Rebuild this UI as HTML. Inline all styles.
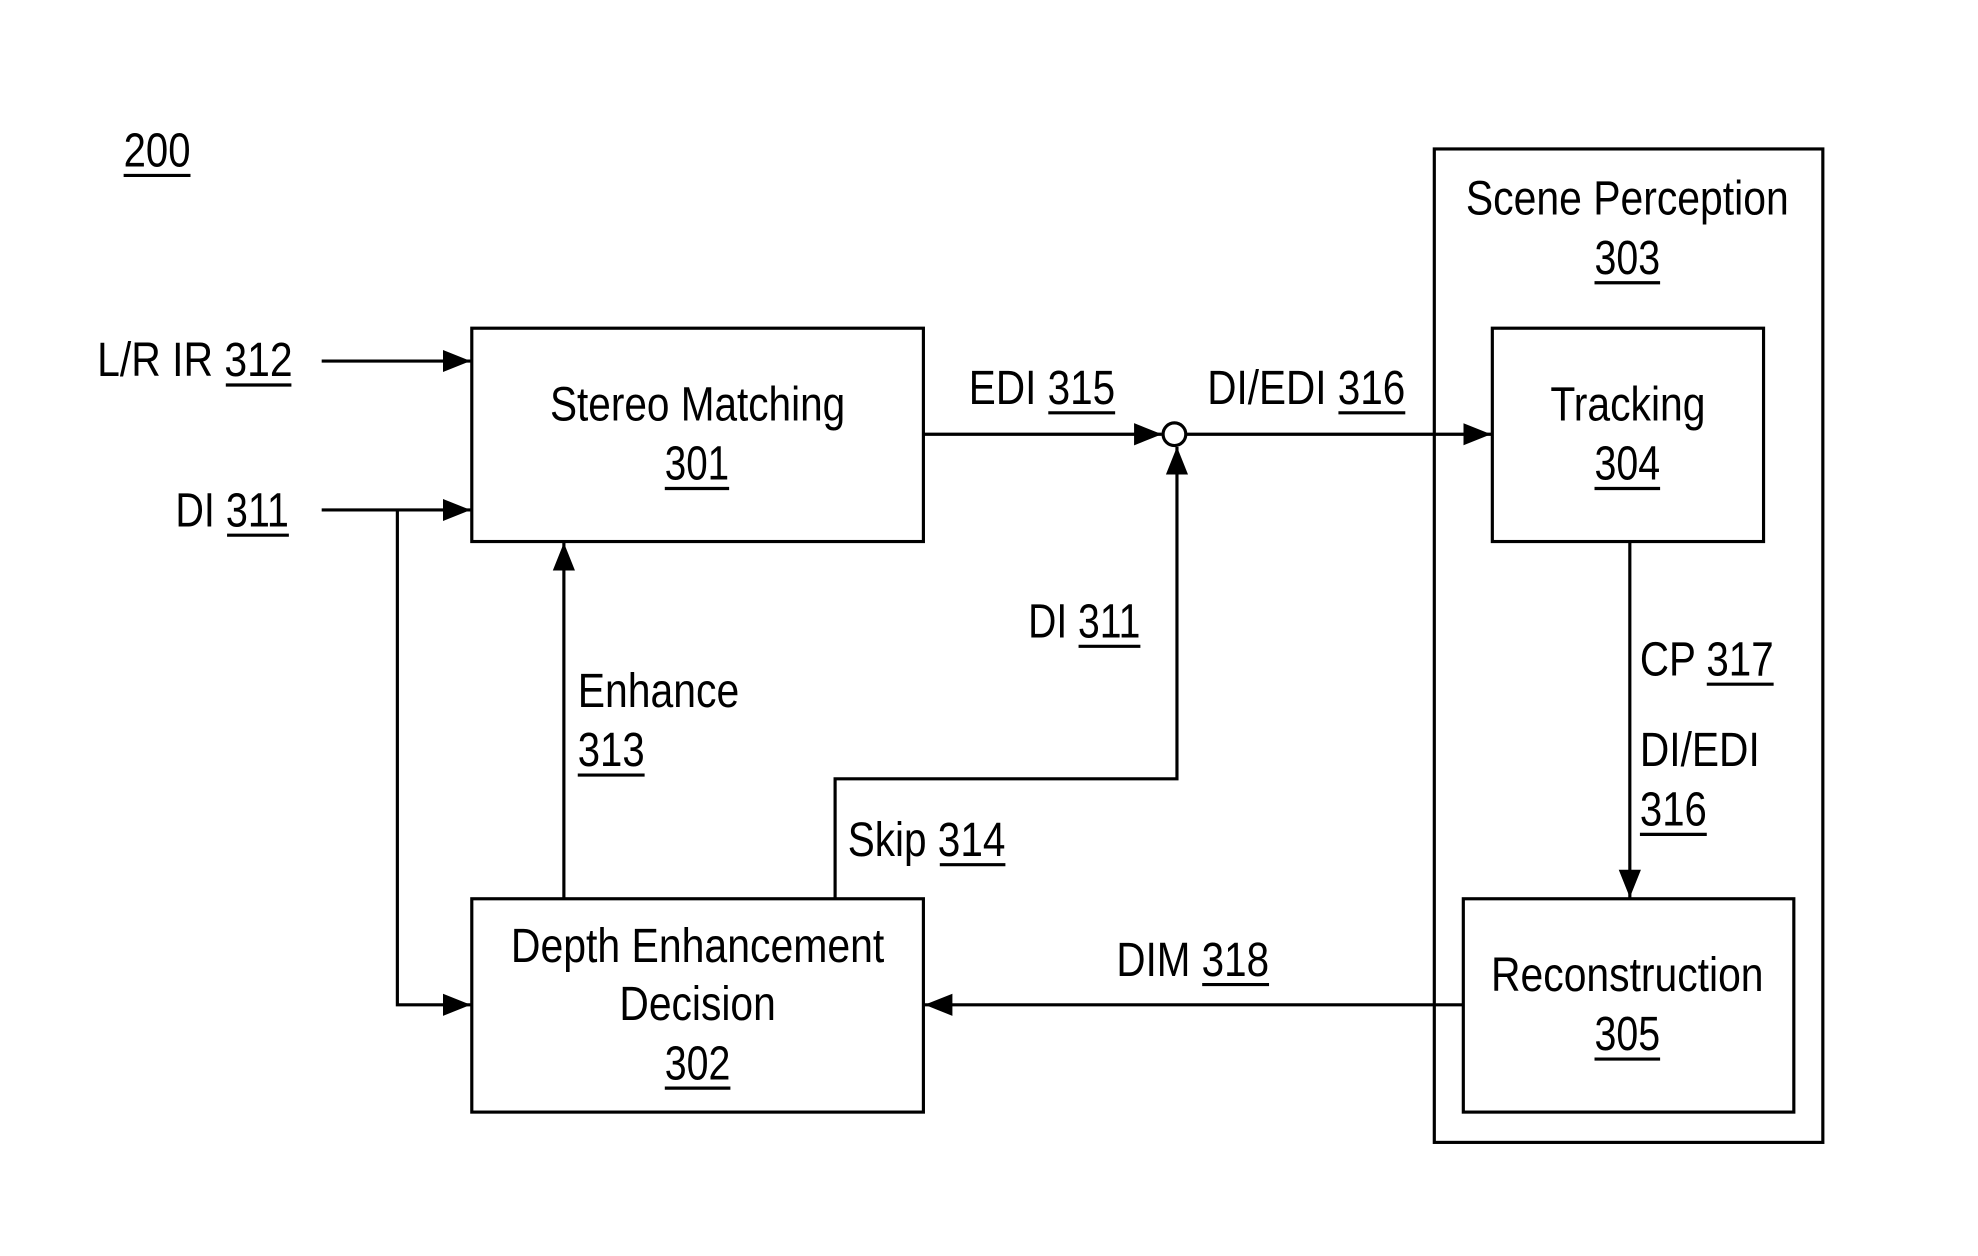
<!DOCTYPE html>
<html><head><style>html,body{margin:0;padding:0;background:#fff;}svg{display:block}</style></head>
<body>
<svg width="1978" height="1256" viewBox="0 0 1568 995" preserveAspectRatio="none" xmlns="http://www.w3.org/2000/svg">
<defs><marker id="a" viewBox="0 0 10 10" refX="10" refY="5" markerWidth="22" markerHeight="22" markerUnits="userSpaceOnUse" orient="auto"><path d="M0,1 L10,5 L0,9 z" fill="#000"/></marker></defs>
<g fill="none" stroke="#000" stroke-width="2.5">
<rect x="374" y="260" width="358" height="169"/>
<rect x="374" y="712" width="358" height="169"/>
<rect x="1137" y="118" width="308" height="787"/>
<rect x="1183" y="260" width="215" height="169"/>
<rect x="1160" y="712" width="262" height="169"/>
<line x1="255" y1="286" x2="373" y2="286" marker-end="url(#a)"/>
<line x1="255" y1="404" x2="373" y2="404" marker-end="url(#a)"/>
<polyline points="315,404 315,796 373,796" marker-end="url(#a)"/>
<line x1="447" y1="712" x2="447" y2="430" marker-end="url(#a)"/>
<line x1="732" y1="344" x2="921" y2="344" marker-end="url(#a)"/>
<circle cx="931" cy="344" r="9"/>
<line x1="940" y1="344" x2="1182" y2="344" marker-end="url(#a)"/>
<polyline points="662,712 662,617 933,617 933,354" marker-end="url(#a)"/>
<line x1="1292" y1="429" x2="1292" y2="711" marker-end="url(#a)"/>
<line x1="1160" y1="796" x2="733" y2="796" marker-end="url(#a)"/>
</g>
<g font-family="Liberation Sans, Arial, sans-serif" font-size="38" fill="#000">
<text x="98" y="132" textLength="53" lengthAdjust="spacingAndGlyphs">200</text>
<text x="77" y="298" textLength="155" lengthAdjust="spacingAndGlyphs">L/R IR 312</text>
<text x="139" y="417" textLength="90" lengthAdjust="spacingAndGlyphs">DI 311</text>
<text x="436" y="333" textLength="234" lengthAdjust="spacingAndGlyphs">Stereo Matching</text>
<text x="527" y="380" textLength="51" lengthAdjust="spacingAndGlyphs">301</text>
<text x="405" y="762" textLength="296" lengthAdjust="spacingAndGlyphs">Depth Enhancement</text>
<text x="491" y="808" textLength="124" lengthAdjust="spacingAndGlyphs">Decision</text>
<text x="527" y="855" textLength="52" lengthAdjust="spacingAndGlyphs">302</text>
<text x="1162" y="170" textLength="256" lengthAdjust="spacingAndGlyphs">Scene Perception</text>
<text x="1264" y="217" textLength="52" lengthAdjust="spacingAndGlyphs">303</text>
<text x="1229" y="333" textLength="123" lengthAdjust="spacingAndGlyphs">Tracking</text>
<text x="1264" y="380" textLength="52" lengthAdjust="spacingAndGlyphs">304</text>
<text x="1182" y="785" textLength="216" lengthAdjust="spacingAndGlyphs">Reconstruction</text>
<text x="1264" y="832" textLength="52" lengthAdjust="spacingAndGlyphs">305</text>
<text x="458" y="560" textLength="128" lengthAdjust="spacingAndGlyphs">Enhance</text>
<text x="458" y="607" textLength="53" lengthAdjust="spacingAndGlyphs">313</text>
<text x="768" y="320" textLength="116" lengthAdjust="spacingAndGlyphs">EDI 315</text>
<text x="957" y="320" textLength="157" lengthAdjust="spacingAndGlyphs">DI/EDI 316</text>
<text x="815" y="505" textLength="89" lengthAdjust="spacingAndGlyphs">DI 311</text>
<text x="672" y="678" textLength="125" lengthAdjust="spacingAndGlyphs">Skip 314</text>
<text x="1300" y="535" textLength="106" lengthAdjust="spacingAndGlyphs">CP 317</text>
<text x="1300" y="607" textLength="95" lengthAdjust="spacingAndGlyphs">DI/EDI</text>
<text x="1300" y="654" textLength="53" lengthAdjust="spacingAndGlyphs">316</text>
<text x="885" y="773" textLength="121" lengthAdjust="spacingAndGlyphs">DIM 318</text>
</g>
<g stroke="#000" stroke-width="2.5">
<line x1="98" y1="139" x2="151" y2="139"/>
<line x1="179" y1="305" x2="231" y2="305"/>
<line x1="180" y1="424" x2="229" y2="424"/>
<line x1="527" y1="387" x2="578" y2="387"/>
<line x1="527" y1="862" x2="579" y2="862"/>
<line x1="1264" y1="224" x2="1316" y2="224"/>
<line x1="1264" y1="387" x2="1316" y2="387"/>
<line x1="1264" y1="839" x2="1316" y2="839"/>
<line x1="458" y1="614" x2="511" y2="614"/>
<line x1="831" y1="327" x2="884" y2="327"/>
<line x1="1061" y1="327" x2="1114" y2="327"/>
<line x1="855" y1="512" x2="904" y2="512"/>
<line x1="745" y1="685" x2="797" y2="685"/>
<line x1="1353" y1="542" x2="1406" y2="542"/>
<line x1="1300" y1="661" x2="1353" y2="661"/>
<line x1="953" y1="780" x2="1006" y2="780"/>
</g>
</svg>
</body></html>
